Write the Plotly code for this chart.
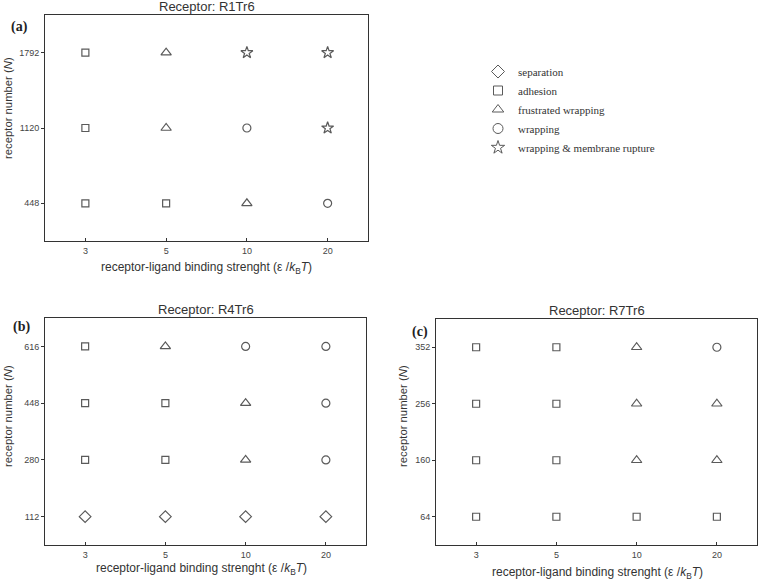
import plotly.graph_objects as go

# ---------------- data ----------------
strengths = ["3", "5", "10", "20"]

phase_names = ["separation", "adhesion", "frustrated wrapping", "wrapping",
               "wrapping & membrane rupture"]

# Panel (a) Receptor R1Tr6
a_receptors = ["448", "1120", "1792"]
a_phases = [  # rows follow a_receptors, columns follow strengths
    ["adhesion", "adhesion", "frustrated wrapping", "wrapping"],
    ["adhesion", "frustrated wrapping", "wrapping", "wrapping & membrane rupture"],
    ["adhesion", "frustrated wrapping", "wrapping & membrane rupture", "wrapping & membrane rupture"],
]

# Panel (b) Receptor R4Tr6
b_receptors = ["112", "280", "448", "616"]
b_phases = [
    ["separation", "separation", "separation", "separation"],
    ["adhesion", "adhesion", "frustrated wrapping", "wrapping"],
    ["adhesion", "adhesion", "frustrated wrapping", "wrapping"],
    ["adhesion", "frustrated wrapping", "wrapping", "wrapping"],
]

# Panel (c) Receptor R7Tr6
c_receptors = ["64", "160", "256", "352"]
c_phases = [
    ["adhesion", "adhesion", "adhesion", "adhesion"],
    ["adhesion", "adhesion", "frustrated wrapping", "frustrated wrapping"],
    ["adhesion", "adhesion", "frustrated wrapping", "frustrated wrapping"],
    ["adhesion", "adhesion", "frustrated wrapping", "wrapping"],
]

panel_titles = ["Receptor: R1Tr6", "Receptor: R4Tr6", "Receptor: R7Tr6"]
panel_labels = ["(a)", "(b)", "(c)"]
x_title = "receptor-ligand binding strenght (ε /<i>k</i><sub>B</sub><i>T</i>)"
y_title = "receptor number (<i>N</i>)"

# ---------------- style ----------------
symbols = {
    "separation": "diamond-open",
    "adhesion": "square-open",
    "frustrated wrapping": "triangle-up-open",
    "wrapping": "circle-open",
    "wrapping & membrane rupture": "star-open",
}
sizes = {
    "separation": 9,
    "adhesion": 7,
    "frustrated wrapping": 9,
    "wrapping": 8,
    "wrapping & membrane rupture": 9,
}
legend_sizes = {
    "separation": 10,
    "adhesion": 9,
    "frustrated wrapping": 10,
    "wrapping": 10,
    "wrapping & membrane rupture": 10,
}
mcolor = "#5a5a5a"

W, H = 759, 581
def px(v): return v / W
def py(v): return 1 - v / H

domains = [
    dict(x=[px(45), px(368)], y=[py(241), py(15)]),
    dict(x=[px(45), px(366)], y=[py(545), py(318)]),
    dict(x=[px(436), px(757)], y=[py(545), py(319)]),
]
# positions of the axis titles / panel letters (pixels)
xtitle_pos = [(206, 268), (202, 569), (597, 573)]
ytitle_pos = [(8, 108), (8, 416), (403, 416)]
label_pos = [(30, 27), (32, 327), (430, 332)]

panels = [(a_receptors, a_phases), (b_receptors, b_phases), (c_receptors, c_phases)]

fig = go.Figure()

for ph in phase_names:
    for i, (recs, grid) in enumerate(panels):
        xs, ys = [], []
        for r, row in zip(recs, grid):
            for s, p in zip(strengths, row):
                if p == ph:
                    xs.append(s)
                    ys.append(r)
        if not xs:
            continue
        suffix = "" if i == 0 else str(i + 1)
        fig.add_trace(go.Scatter(
            x=xs, y=ys, mode="markers", xaxis="x" + suffix, yaxis="y" + suffix,
            marker=dict(symbol=symbols[ph], size=sizes[ph], color=mcolor,
                        line=dict(width=1.2, color=mcolor)),
            name=ph, showlegend=False, hoverinfo="x+y+name"))

# legend-only entries (larger symbols like the reference key)
for ph in phase_names:
    fig.add_trace(go.Scatter(
        x=[None], y=[None], mode="markers", xaxis="x", yaxis="y",
        marker=dict(symbol=symbols[ph], size=legend_sizes[ph], color=mcolor,
                    line=dict(width=1, color=mcolor)),
        name=ph, showlegend=True))

sans = "Liberation Sans, Arial, sans-serif"
serif = "Liberation Serif, Times New Roman, serif"
axis_font = dict(family=sans, size=9, color="#444")
xtitle_font = dict(family=sans, size=12, color="#333")
ytitle_font = dict(family=sans, size=11.3, color="#333")

layout = dict(
    width=W, height=H, margin=dict(l=0, r=0, t=0, b=0),
    plot_bgcolor="white", paper_bgcolor="white",
    font=dict(family=sans, color="#333"),
    legend=dict(x=px(478), y=py(57), xanchor="left", yanchor="top",
                font=dict(family=serif, size=11, color="#333"),
                bgcolor="rgba(0,0,0,0)", itemsizing="trace", tracegroupgap=0),
    showlegend=True,
)

annotations = []
for i, (recs, grid) in enumerate(panels):
    suffix = "" if i == 0 else str(i + 1)
    d = domains[i]
    layout["xaxis" + suffix] = dict(
        domain=d["x"], anchor="y" + suffix, type="category",
        categoryorder="array", categoryarray=strengths, range=[-0.5, 3.5],
        showline=True, mirror=True, linecolor="#333", linewidth=1,
        ticks="inside", ticklen=3, tickcolor="#333", tickfont=axis_font,
        ticklabelstandoff=1, showgrid=False, zeroline=False)
    layout["yaxis" + suffix] = dict(
        domain=d["y"], anchor="x" + suffix, type="category",
        categoryorder="array", categoryarray=recs, range=[-0.5, len(recs) - 0.5],
        showline=True, mirror=True, linecolor="#333", linewidth=1,
        ticks="outside", ticklen=3, tickcolor="#333", tickfont=axis_font,
        showgrid=False, zeroline=False)
    annotations.append(dict(
        text=panel_titles[i], x=(d["x"][0] + d["x"][1]) / 2, y=d["y"][1],
        xref="paper", yref="paper", xanchor="center", yanchor="bottom",
        showarrow=False, font=dict(family=sans, size=13, color="#333"), yshift=-1))
    annotations.append(dict(
        text="<b>" + panel_labels[i] + "</b>", x=px(label_pos[i][0]), y=py(label_pos[i][1]),
        xref="paper", yref="paper", xanchor="right", yanchor="middle",
        showarrow=False, font=dict(family=serif, size=14, color="#222")))
    annotations.append(dict(
        text=x_title, x=px(xtitle_pos[i][0]), y=py(xtitle_pos[i][1]),
        xref="paper", yref="paper", xanchor="center", yanchor="middle",
        showarrow=False, font=xtitle_font))
    annotations.append(dict(
        text=y_title, x=px(ytitle_pos[i][0]), y=py(ytitle_pos[i][1]),
        xref="paper", yref="paper", xanchor="center", yanchor="middle",
        textangle=-90, showarrow=False, font=ytitle_font))

layout["annotations"] = annotations
fig.update_layout(**layout)
fig.write_html("out.html", config={"displayModeBar": False},
               post_script="document.body.style.margin='0';")
